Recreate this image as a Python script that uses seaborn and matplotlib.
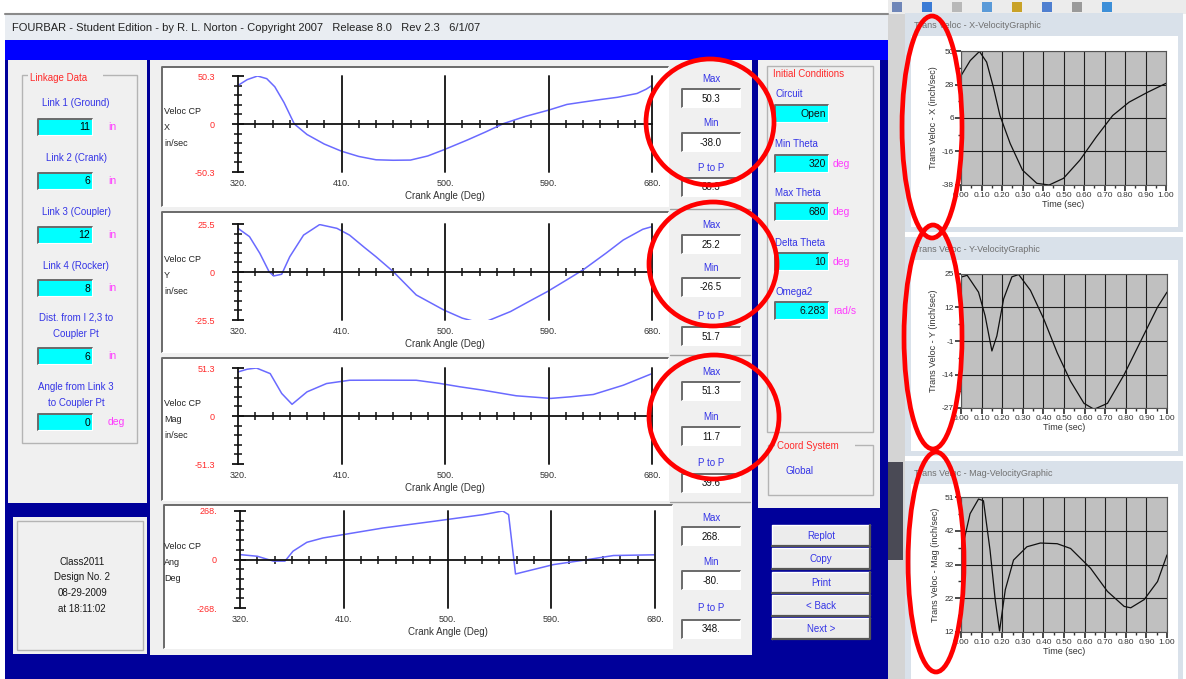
import numpy as np
import pandas as pd
import seaborn as sns
import matplotlib.pyplot as plt
from matplotlib.patches import Rectangle, Ellipse

W, H = 1186, 679

# ---- data ----
crank_ticks = [320, 410, 500, 590, 680]

angle_vx = [320, 328, 337, 345, 352, 360, 369, 380, 395, 410, 425, 440, 455, 470,
            485, 499, 519, 535, 551, 570, 590, 606, 620, 635, 650, 667, 675, 680]
veloc_x = [40.4, 46.5, 50.3, 47.5, 39.0, 22.5, 0.0, -11.0, -21.0, -28.5, -34.0, -37.5,
           -38.0, -37.8, -33.5, -27.0, -17.0, -8.5, 0.5, 8.0, 14.5, 20.5, 23.0, 25.6,
           28.0, 32.0, 36.5, 40.4]

angle_vy = [320, 330, 339, 347, 351, 358, 365, 377, 391, 406, 417, 430, 440, 455,
            475, 499, 515, 527, 537, 557, 575, 589, 605, 620, 640, 655, 672, 680]
veloc_y = [23.2, 18.8, 9.9, 0.2, -2.1, -1.2, 8.1, 19.6, 25.2, 23.2, 19.6, 13.0, 8.1,
           0.2, -12.2, -20.2, -24.5, -26.5, -26.0, -21.0, -15.0, -10.4, -4.5, 1.1,
           10.0, 17.0, 22.7, 24.1]

angle_vm = [320, 328, 336, 348, 358, 367, 380, 397, 417, 445, 475, 496, 513, 533,
            562, 592, 609, 629, 655, 680]
veloc_m = [47.1, 50.0, 51.3, 45.3, 24.1, 12.5, 25.8, 34.7, 38.2, 38.3, 38.2, 34.7,
           31.2, 27.6, 21.6, 18.8, 20.5, 23.0, 32.9, 45.3]

angle_va = [320, 335, 349, 359, 366, 378, 392, 410, 444, 488, 531, 548, 553, 559,
            592, 618, 644, 680]
veloc_a = [27, 18, -9, -9, 46, 95, 119, 138, 174, 211, 248, 268, 248, -80, -28, -4, 22, 26]

plot_ymax = [50.3, 25.5, 51.3, 268]
plot_ylim_labels = [['-50.3', '0', '50.3'], ['-25.5', '0', '25.5'],
                    ['-51.3', '0', '51.3'], ['-268.', '0', '268.']]
plot_names = ['X', 'Y', 'Mag', 'Ang']
plot_units = ['in/sec', 'in/sec', 'in/sec', 'Deg']

stat_max = ['50.3', '25.2', '51.3', '268.']
stat_min = ['-38.0', '-26.5', '11.7', '-80.']
stat_p2p = ['88.3', '51.7', '39.6', '348.']

link_labels = [['Link 1 (Ground)'], ['Link 2 (Crank)'], ['Link 3 (Coupler)'],
               ['Link 4 (Rocker)'], ['Dist. from I 2,3 to', 'Coupler Pt'],
               ['Angle from Link 3', 'to Coupler Pt']]
link_values = ['11', '6', '12', '8', '6', '0']
link_units = ['in', 'in', 'in', 'in', 'in', 'deg']

ic_labels = ['Circuit', 'Min Theta', 'Max Theta', 'Delta Theta', 'Omega2']
ic_values = ['Open', '320', '680', '10', '6.283']
ic_units = ['', 'deg', 'deg', 'deg', 'rad/s']

buttons = ['Replot', 'Copy', 'Print', '< Back', 'Next >']
design_info = ['Class2011', 'Design No. 2', '08-29-2009', 'at 18:11:02']

time_ticks = [0.0, 0.1, 0.2, 0.3, 0.4, 0.5, 0.6, 0.7, 0.8, 0.9, 1.0]

time_x = [0, 0.045, 0.09, 0.125, 0.158, 0.19, 0.24, 0.30, 0.37, 0.43, 0.50, 0.58,
          0.66, 0.74, 0.82, 0.91, 1.0]
trans_x = [34, 44, 50, 43, 26.4, 7.8, -10.7, -28.2, -36.9, -38, -33.6, -21.6, -6.3,
           7.8, 16.6, 23.1, 29]
tx_ticks = [-38.0, -15.9, 6.2, 28.2, 50.3]
tx_labels = ['-38', '-16', '6', '28', '50']

time_y = [0, 0.03, 0.085, 0.117, 0.15, 0.174, 0.207, 0.247, 0.28, 0.337, 0.402,
          0.467, 0.532, 0.597, 0.646, 0.711, 0.792, 0.873, 0.954, 1.0]
trans_y = [24, 24.7, 18.2, 9.1, -4.5, 1.3, 15.6, 24.1, 25, 18.9, 7.8, -5.2, -16.2,
           -24.7, -27, -24.7, -13.6, -0.6, 12.4, 18.2]
ty_ticks = [-26.5, -13.6, -0.7, 12.3, 25.2]
ty_labels = ['-27', '-14', '-1', '12', '25']

time_m = [0, 0.044, 0.085, 0.109, 0.141, 0.166, 0.187, 0.215, 0.255, 0.32, 0.385,
          0.467, 0.532, 0.629, 0.711, 0.792, 0.824, 0.889, 0.954, 1.0]
trans_m = [34.7, 46.4, 50.7, 50.2, 35.7, 21.2, 12, 24.1, 32.8, 36.7, 37.8, 37.6,
           36.2, 30.4, 23.6, 19.2, 18.8, 21.2, 26.5, 34.3]
tm_ticks = [11.7, 21.6, 31.5, 41.4, 51.3]
tm_labels = ['12', '22', '32', '42', '51']

# ---- colours ----
BLUE_TXT = '#3434e6'
RED_TXT = '#ff2a2a'
MAG_TXT = '#ff3cff'
PANEL = '#f0f0f0'
NAVY = '#00009a'
CYAN = '#00ffff'

sns.set_theme(style='ticks')
plt.rcParams['font.family'] = ['Liberation Sans', 'DejaVu Sans']

fig = plt.figure(figsize=(W / 100, H / 100), dpi=100)
fig.patch.set_facecolor('white')
bg = fig.add_axes([0, 0, 1, 1])
bg.set_xlim(0, W)
bg.set_ylim(H, 0)
bg.axis('off')


def px_rect(x0, y0, x1, y1):
    return [x0 / W, 1 - y1 / H, (x1 - x0) / W, (y1 - y0) / H]


def box(x0, y0, x1, y1, fc, ec='none', lw=0, z=1):
    bg.add_patch(Rectangle((x0, y0), x1 - x0, y1 - y0, fc=fc, ec=ec, lw=lw, zorder=z))


def sunken(x0, y0, x1, y1, fc):
    box(x0, y0, x1, y1, fc, z=2)
    bg.plot([x0, x0, x1], [y1, y0, y0], color='#6a6a6a', lw=1.4, zorder=3)
    bg.plot([x0, x1, x1], [y1, y1, y0], color='white', lw=0.8, zorder=3)


def raised(x0, y0, x1, y1, fc):
    box(x0, y0, x1, y1, fc, z=2)
    bg.plot([x0, x0, x1], [y1, y0, y0], color='white', lw=1, zorder=3)
    bg.plot([x0, x1, x1], [y1, y1, y0], color='#555555', lw=1.6, zorder=3)


def group(x0, y0, x1, y1):
    bg.add_patch(Rectangle((x0, y0), x1 - x0, y1 - y0, fill=False,
                           ec='#b4b4b4', lw=1, zorder=2))


def txt(x, y, s, color='black', size=7, ha='center', **kw):
    bg.text(x, y, s, color=color, fontsize=size, ha=ha, va='center', zorder=6, **kw)


# ---- main window frame ----
box(5, 14, 888, 40, '#e9edf2')
bg.plot([5, 888], [14, 14], color='#8a8a8a', lw=1.5, zorder=2)
txt(12, 28, 'FOURBAR - Student Edition - by R. L. Norton - Copyright 2007   '
    'Release 8.0   Rev 2.3   6/1/07', color='#222222', size=8, ha='left')
box(5, 40, 888, H, NAVY)
box(5, 40, 888, 60, '#0000ff')

# ---- left panel: linkage data ----
box(8, 60, 147, 503, PANEL)
group(22, 75, 137, 443)
box(28, 72, 103, 84, PANEL, z=2)
txt(30, 78, 'Linkage Data', RED_TXT, 7, ha='left')
label_y = [103, 158, 212, 266, 318, 387]
box_y = [119, 173, 227, 280, 348, 414]
for lines, ly, by, val, unit in zip(link_labels, label_y, box_y, link_values, link_units):
    for k, line in enumerate(lines):
        txt(76, ly + 16 * k, line, BLUE_TXT, 7)
    sunken(38, by, 92, by + 16, CYAN)
    txt(90, by + 8.5, val, 'black', 7.5, ha='right')
    txt(108, by + 8, unit, MAG_TXT, 7.5, ha='left')

box(13, 517, 147, 654, PANEL)
group(17, 521, 143, 650)
for k, line in enumerate(design_info):
    txt(82, 562 + 15.5 * k, line, '#1a1a1a', 7)

# ---- middle panel with the four crank-angle plots ----
box(150, 60, 752, 655, PANEL)
plot_boxes = [(162, 67, 668, 206), (162, 212, 668, 352),
              (162, 358, 668, 500), (164, 505, 672, 648)]
axes_px = [(238, 76, 652, 172), (238, 224, 652, 320),
           (238, 368, 652, 464), (240, 511, 655, 608)]
for bx in plot_boxes:
    sunken(*bx, 'white')

crank_series = [(angle_vx, veloc_x), (angle_vy, veloc_y),
                (angle_vm, veloc_m), (angle_va, veloc_a)]

for i, ((ang, vals), rect) in enumerate(zip(crank_series, axes_px)):
    ymax = plot_ymax[i]
    ax = fig.add_axes(px_rect(*rect))
    ax.patch.set_alpha(0)
    df = pd.DataFrame({'angle': ang, 'veloc': vals})
    sns.lineplot(data=df, x='angle', y='veloc', ax=ax, color='#6a6aff', lw=1.1)
    ax.set_xlim(320, 680)
    ax.set_ylim(-ymax, ymax)
    ax.set_xlabel('')
    ax.set_ylabel('')
    for s in ['top', 'right']:
        ax.spines[s].set_visible(False)
    ax.spines['bottom'].set_position(('data', 0))
    for s in ['bottom', 'left']:
        ax.spines[s].set_color('#111111')
        ax.spines[s].set_linewidth(1.3)
    for a in crank_ticks[1:]:
        ax.axvline(a, color='#222222', lw=1.4, clip_on=False)
    ax.set_xticks(crank_ticks)
    ax.set_xticklabels([])
    ax.set_xticks(np.arange(335, 680, 15), minor=True)
    ax.tick_params(axis='x', which='major', length=0)
    ax.tick_params(axis='x', which='minor', direction='inout', length=6,
                   width=1.1, color='#111111', bottom=True)
    ax.set_yticks([-ymax, 0, ymax])
    ax.set_yticklabels(plot_ylim_labels[i], color=RED_TXT, fontsize=6.5)
    ax.set_yticks(np.linspace(-ymax, ymax, 11), minor=True)
    ax.tick_params(axis='y', which='major', direction='inout', length=9, width=1.3,
                   pad=12, color='#111111', left=True)
    ax.tick_params(axis='y', which='minor', direction='inout', length=6, width=1.1,
                   color='#111111', left=True)
    sec = ax.secondary_xaxis('bottom')
    sec.spines['bottom'].set_visible(False)
    sec.set_xticks(crank_ticks)
    sec.set_xticklabels([f'{a}.' for a in crank_ticks], fontsize=6.5, color='#333333')
    sec.tick_params(length=0, pad=5)
    sec.set_xlabel('Crank Angle (Deg)', fontsize=7, color='#333333', labelpad=2)

    zero_y = (rect[1] + rect[3]) / 2
    txt(164, zero_y - 13, 'Veloc CP', '#222222', 6.5, ha='left')
    txt(164, zero_y + 3, plot_names[i], '#222222', 6.5, ha='left')
    txt(164, zero_y + 19, plot_units[i], '#222222', 6.5, ha='left')

# Max / Min / P to P column
stat_layout = [(79, 89, 123, 133, 168, 178), (225, 235, 268, 278, 316, 327),
               (372, 382, 417, 427, 463, 474), (518, 527, 562, 571, 608, 620)]
for i, (ly1, by1, ly2, by2, ly3, by3) in enumerate(stat_layout):
    for ly, by, name, val in [(ly1, by1, 'Max', stat_max[i]),
                              (ly2, by2, 'Min', stat_min[i]),
                              (ly3, by3, 'P to P', stat_p2p[i])]:
        txt(711, ly, name, BLUE_TXT, 7)
        sunken(682, by, 740, by + 18, 'white')
        txt(711, by + 9.5, val, '#111111', 7)
for sy in [209, 355, 502]:
    bg.plot([670, 750], [sy, sy], color='#a0a0a0', lw=1, zorder=2)

# ---- right panel: initial conditions ----
box(758, 60, 880, 508, PANEL)
group(767, 66, 873, 432)
box(771, 68, 862, 80, PANEL, z=2)
txt(773, 74, 'Initial Conditions', RED_TXT, 7, ha='left')
ic_label_y = [94, 144, 193, 243, 292]
ic_box_y = [105, 155, 203, 253, 302]
for name, ly, by, val, unit in zip(ic_labels, ic_label_y, ic_box_y, ic_values, ic_units):
    txt(775, ly, name, BLUE_TXT, 7, ha='left')
    sunken(775, by, 828, by + 17, CYAN)
    txt(826, by + 9, val, '#111111', 7.5, ha='right')
    if unit:
        txt(833, by + 9, unit, MAG_TXT, 7.5, ha='left')

group(768, 445, 873, 495)
box(775, 440, 855, 452, PANEL, z=2)
txt(777, 446, 'Coord System', RED_TXT, 7, ha='left')
txt(785, 471, 'Global', BLUE_TXT, 7, ha='left')

btn_y = [525, 548, 572, 595, 618]
for name, by in zip(buttons, btn_y):
    raised(772, by, 870, by + 21, '#ececec')
    txt(821, by + 11, name, BLUE_TXT, 7)

# ---- right side: three small velocity windows ----
box(888, 0, W, 14, '#ececec')
box(888, 14, 905, H, '#d4d4d4')
box(888, 462, 903, 560, '#4a4a55')
for k, c in enumerate(['#6f86b8', '#3a7bd5', '#b8b8b8', '#5a9ad8', '#c9a227',
                       '#4f7fd0', '#9a9a9a', '#3d8fd8']):
    box(892 + 30 * k, 2, 902 + 30 * k, 12, c, z=2)

windows = [(13, 232, 'Trans Veloc - X-VelocityGraphic'),
           (237, 456, 'Trans Veloc - Y-VelocityGraphic'),
           (461, 690, 'Trans Veloc - Mag-VelocityGraphic')]
for y0, y1, title in windows:
    box(905, y0, 1183, y1, '#d9e1ea', z=1)
    box(911, y0 + 23, 1178, y1 - 5, 'white', z=2)
    txt(914, y0 + 13, title, '#707070', 6.5, ha='left')

small_axes = [(961, 51, 1166, 185), (961, 274, 1167, 408), (961, 497, 1167, 632)]
small_series = [(time_x, trans_x, tx_ticks, tx_labels, 'Trans Veloc - X (inch/sec)'),
                (time_y, trans_y, ty_ticks, ty_labels, 'Trans Veloc - Y (inch/sec)'),
                (time_m, trans_m, tm_ticks, tm_labels, 'Trans Veloc - Mag (inch/sec)')]
for rect, (t, v, yt, ytl, ylab) in zip(small_axes, small_series):
    ax = fig.add_axes(px_rect(*rect))
    ax.set_facecolor('#c0c0c0')
    sns.lineplot(x=t, y=v, ax=ax, color='#101010', lw=0.9)
    ax.set_xlim(0, 1)
    ax.set_ylim(yt[0], yt[-1])
    ax.set_xticks(time_ticks)
    ax.set_xticklabels([f'{x:.2f}' for x in time_ticks], fontsize=6, color='#333333')
    ax.set_yticks(yt)
    ax.set_yticklabels(ytl, fontsize=6, color='#333333')
    ax.set_yticks([(a + b) / 2 for a, b in zip(yt[:-1], yt[1:])], minor=True)
    ax.set_xticks(np.arange(0.05, 1.0, 0.1), minor=True)
    ax.grid(True, which='major', color='#1e1e1e', lw=0.8)
    ax.tick_params(which='major', length=4, pad=1, direction='out', color='#333333',
                   bottom=True, left=True)
    ax.tick_params(which='minor', length=2, direction='out', color='#333333',
                   bottom=True, left=True)
    ax.set_xlabel('Time (sec)', fontsize=6.5, labelpad=1, color='#333333')
    ax.set_ylabel(ylab, fontsize=6.5, labelpad=3, color='#333333')
    for s in ax.spines.values():
        s.set_color('#555555')
        s.set_linewidth(0.8)

# ---- red hand-drawn annotation ellipses ----
ov = fig.add_axes([0, 0, 1, 1])
ov.set_xlim(0, W)
ov.set_ylim(H, 0)
ov.axis('off')
ov.patch.set_alpha(0)
for cx, cy, w, h in [(710, 122, 128, 126), (713, 264, 128, 124), (714, 417, 130, 124),
                     (932, 127, 60, 222), (933, 337, 58, 224), (936, 562, 56, 220)]:
    ov.add_patch(Ellipse((cx, cy), w, h, fill=False, ec='#ff0000', lw=3.4))

fig.savefig('out.png', dpi=100)
